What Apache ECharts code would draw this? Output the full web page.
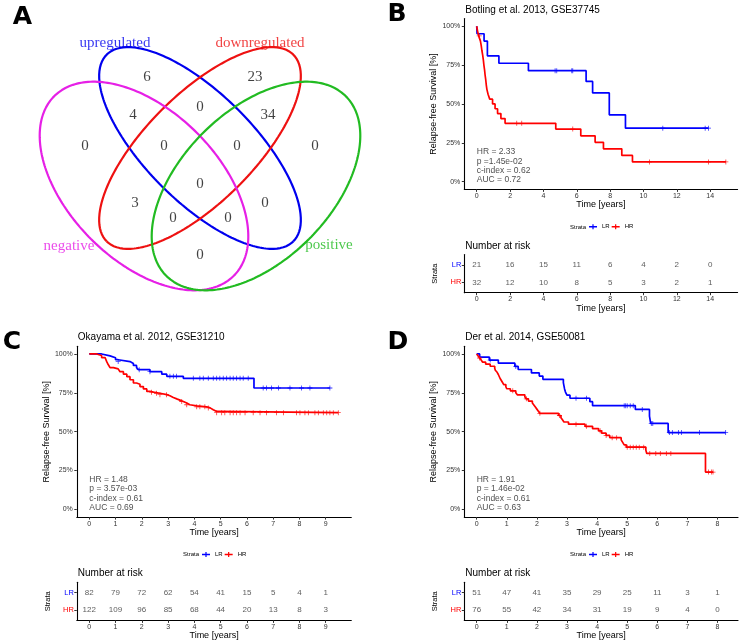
<!DOCTYPE html>
<html><head><meta charset="utf-8">
<script src="https://cdn.jsdelivr.net/npm/echarts@6/dist/echarts.min.js"></script>
<style>html,body{margin:0;padding:0;background:#fff}#c{width:740px;height:643px}</style>
</head><body><div id="c"></div>
<script>
// ================= DATA =================
// Panel A: Venn diagram
const vennSetNames = ['upregulated', 'downregulated', 'negative', 'positive'];
const vennRegionNames = ['up', 'down', 'neg&up', 'up&down', 'down&pos', 'neg', 'neg&up&down', 'up&down&pos', 'pos',
  'all', 'neg&down', 'up&pos', 'neg&down&pos', 'neg&up&pos', 'neg&pos'];
const vennCounts = [6, 23, 4, 0, 34, 0, 0, 0, 0, 0, 3, 0, 0, 0, 0];

// Panel B: Botling et al. 2013
const bTitle = 'Botling et al. 2013, GSE37745';
const bLR = [[0,1],[0.02,0.952],[0.44,0.905],[0.64,0.81],[1.33,0.762],[3.1,0.714],[6.56,0.645],[6.95,0.571],[7.95,0.43],[8.92,0.344],[13.9,0.344]];
const bLRcens = [4.7, 4.8, 5.7, 5.76, 11.16, 13.7, 13.9];
const bHR = [[0,1],[0.05,0.969],[0.12,0.938],[0.22,0.906],[0.27,0.875],[0.31,0.844],[0.36,0.812],[0.4,0.781],[0.43,0.75],[0.47,0.719],[0.5,0.688],[0.54,0.656],[0.57,0.625],[0.61,0.594],[0.68,0.562],[0.78,0.531],[0.95,0.5],[1.1,0.469],[1.25,0.438],[1.45,0.406],[1.7,0.375],[4.74,0.338],[6.24,0.295],[7.1,0.253],[7.6,0.211],[8.7,0.169],[9.34,0.127],[14.94,0.127]];
const bHRcens = [0.15, 2.4, 2.7, 5.76, 10.36, 13.9, 14.94];
const bXTicks = [0, 2, 4, 6, 8, 10, 12, 14];
const bRiskLR = [21, 16, 15, 11, 6, 4, 2, 0];
const bRiskHR = [32, 12, 10, 8, 5, 3, 2, 1];
const bStats = ['HR = 2.33', 'p =1.45e-02', 'c-index = 0.62', 'AUC = 0.72'];

// Panel C: Okayama et al. 2012
const cTitle = 'Okayama et al. 2012, GSE31210';
const cLR = [[0,1],[0.47,0.988],[0.79,0.976],[1.0,0.963],[1.1,0.951],[1.55,0.939],[1.68,0.926],[1.8,0.912],[1.87,0.899],[2.31,0.886],[2.76,0.87],[2.95,0.856],[3.58,0.843],[6.27,0.781],[9.16,0.781]];
const cLRcens = [1.1,1.9,2.31,3.07,3.2,3.32,3.96,4.21,4.34,4.53,4.72,4.85,4.97,5.1,5.23,5.36,5.48,5.61,5.74,5.86,6.05,6.62,6.75,6.94,7.2,7.64,8.08,8.4,9.16];
const cHR = [[0,1],[0.28,0.99],[0.47,0.977],[0.6,0.968],[0.66,0.952],[0.72,0.932],[0.79,0.912],[0.92,0.904],[1.1,0.896],[1.17,0.886],[1.3,0.87],[1.43,0.854],[1.55,0.834],[1.68,0.813],[1.8,0.805],[1.93,0.79],[2.06,0.775],[2.19,0.759],[2.31,0.754],[2.44,0.747],[2.69,0.738],[2.95,0.731],[3.07,0.72],[3.2,0.711],[3.33,0.703],[3.45,0.694],[3.58,0.684],[3.71,0.673],[3.83,0.666],[4.09,0.66],[4.47,0.653],[4.6,0.641],[4.72,0.63],[4.85,0.622],[9.48,0.622]];
const cHRcens = [2.37,2.56,2.69,2.94,3.52,3.71,4.09,4.21,4.4,4.53,4.85,5.04,5.16,5.36,5.48,5.61,5.74,5.93,6.24,6.5,6.75,7.13,7.39,7.89,8.02,8.21,8.34,8.59,8.72,8.91,9.04,9.16,9.29,9.48];
const cXTicks = [0, 1, 2, 3, 4, 5, 6, 7, 8, 9];
const cRiskLR = [82, 79, 72, 62, 54, 41, 15, 5, 4, 1];
const cRiskHR = [122, 109, 96, 85, 68, 44, 20, 13, 8, 3];
const cStats = ['HR = 1.48', 'p = 3.57e-03', 'c-index = 0.61', 'AUC = 0.69'];

// Panel D: Der et al. 2014
const dTitle = 'Der et al. 2014, GSE50081';
const dLR = [[0,1],[0.1,0.98],[0.42,0.961],[0.72,0.941],[1.27,0.92],[1.38,0.9],[1.82,0.878],[2.08,0.858],[2.2,0.837],[2.88,0.816],[2.9,0.795],[2.92,0.775],[2.95,0.755],[3.0,0.735],[3.1,0.715],[3.76,0.693],[3.85,0.667],[5.27,0.643],[5.74,0.6],[5.78,0.553],[6.36,0.494],[8.27,0.494]];
const dLRcens = [0.45,1.3,3.3,3.65,4.9,4.95,5.0,5.1,5.2,5.5,5.8,5.85,6.4,6.5,6.7,6.8,7.4,8.27];
const dHR = [[0,1],[0.05,0.987],[0.1,0.974],[0.15,0.961],[0.2,0.947],[0.3,0.934],[0.45,0.921],[0.6,0.908],[0.62,0.895],[0.68,0.882],[0.72,0.868],[0.75,0.855],[0.78,0.842],[0.82,0.829],[0.86,0.816],[0.9,0.803],[0.97,0.789],[1.0,0.776],[1.12,0.763],[1.3,0.75],[1.35,0.737],[1.6,0.724],[1.65,0.711],[1.72,0.697],[1.85,0.684],[1.9,0.671],[1.95,0.658],[2.0,0.645],[2.05,0.632],[2.1,0.618],[2.72,0.604],[2.8,0.59],[2.85,0.576],[2.9,0.562],[3.05,0.548],[3.6,0.534],[3.85,0.519],[4.05,0.505],[4.15,0.49],[4.3,0.476],[4.42,0.461],[4.8,0.447],[4.85,0.431],[4.9,0.415],[4.97,0.4],[5.62,0.38],[5.65,0.36],[7.6,0.24],[7.85,0.24]];
const dHRcens = [0.1,1.2,1.65,2.1,2.75,3.3,3.65,4.1,4.3,4.5,4.65,5.0,5.1,5.2,5.3,5.4,5.55,5.75,5.95,6.1,6.3,6.45,7.7,7.8,7.85];
const dXTicks = [0, 1, 2, 3, 4, 5, 6, 7, 8];
const dRiskLR = [51, 47, 41, 35, 29, 25, 11, 3, 1];
const dRiskHR = [76, 55, 42, 34, 31, 19, 9, 4, 0];
const dStats = ['HR = 1.91', 'p = 1.46e-02', 'c-index = 0.61', 'AUC = 0.63'];

// shared tick labels / strata names
const yTicks = [0, 0.25, 0.5, 0.75, 1];
const yTickLabels = ['0%', '25%', '50%', '75%', '100%'];
const strataNames = ['LR', 'HR'];

// ================= LAYOUT / STYLE =================
const FONT = '"Liberation Sans", Arial, sans-serif';
const SERIF = '"Liberation Serif", "Times New Roman", serif';
const BLUE = '#0000ff', RED = '#ff0000';
const PLUS = 'path://M0,4.2H10V5.8H0Z M4.2,0H5.8V10H4.2Z';
const KEY = 'path://M0,1.8H8V3.2H0Z M3.4,0H4.6V5H3.4Z';

// Venn layout (coordinate space of grid 0, y downward)
const vennEllipses = [
  {cx: 200, cy: 148, a: 132, b: 54, rot: 45, color: '#0000ee'},   // upregulated
  {cx: 200, cy: 148, a: 132, b: 54, rot: 135, color: '#ee1111'},  // downregulated
  {cx: 144, cy: 186, a: 127, b: 75, rot: 45, color: '#e620e6'},   // negative
  {cx: 256, cy: 186, a: 127, b: 75, rot: 135, color: '#22bb22'}   // positive
];
const vennSetLabelPos = [[115, 43], [260, 43], [69, 246], [329, 245]];
const vennRegionPos = [[147,77],[255,77],[133,115],[200,107],[268,115],[85,146],[164,146],[237,146],[315,146],[200,184],[135,203],[265,203],[173,218],[228,218],[200,255]];
const statsY = [0.19, 0.13, 0.07, 0.01];

const panels = [
  {title: bTitle, lr: bLR, hr: bHR, lrC: bLRcens, hrC: bHRcens, ticks: bXTicks, riskLR: bRiskLR, riskHR: bRiskHR, stats: bStats,
   L: {left: 464.3, width: 273.3, top: 18.5, xMin: -0.745, xMax: 15.645, letter: 'B', letterX: 397, letterY: 14, legendX: 589, strataX: 570}},
  {title: cTitle, lr: cLR, hr: cHR, lrC: cLRcens, hrC: cHRcens, ticks: cXTicks, riskLR: cRiskLR, riskHR: cRiskHR, stats: cStats,
   L: {left: 76.8, width: 274.5, top: 346.2, xMin: -0.475, xMax: 9.975, letter: 'C', letterX: 12, letterY: 342, legendX: 202, strataX: 183}},
  {title: dTitle, lr: dLR, hr: dHR, lrC: dLRcens, hrC: dHRcens, ticks: dXTicks, riskLR: dRiskLR, riskHR: dRiskHR, stats: dStats,
   L: {left: 464.3, width: 273.7, top: 346.2, xMin: -0.41, xMax: 8.68, letter: 'D', letterX: 398, letterY: 342, legendX: 589, strataX: 570}}
];
const PLOT_H = 170.9, TABLE_OFF = 236.1, TABLE_H = 38.1;

function stepLevel(curve, t) {
  let s = curve[0][1];
  for (const p of curve) { if (p[0] <= t + 1e-9) s = p[1]; else break; }
  return s;
}
function ellipsePoints(e) {
  const pts = [], phi = e.rot * Math.PI / 180, N = 240;
  for (let k = 0; k <= N; k++) {
    const th = 2 * Math.PI * k / N;
    const u = e.a * Math.cos(th), v = e.b * Math.sin(th);
    pts.push([e.cx + u * Math.cos(phi) - v * Math.sin(phi), e.cy + u * Math.sin(phi) + v * Math.cos(phi)]);
  }
  return pts;
}

const grids = [{left: 0, top: 0, width: 370, height: 300}];
const xAxes = [{gridIndex: 0, type: 'value', min: 0, max: 370, show: false}];
const yAxes = [{gridIndex: 0, type: 'value', min: 0, max: 300, inverse: true, show: false}];
const series = [];
const legends = [];
const graphics = [];

// Venn
vennEllipses.forEach((e, i) => {
  series.push({type: 'line', name: vennSetNames[i], xAxisIndex: 0, yAxisIndex: 0, data: ellipsePoints(e),
    showSymbol: false, symbol: 'none', silent: true, lineStyle: {color: e.color, width: 2.2}, z: 2});
});
series.push({type: 'scatter', xAxisIndex: 0, yAxisIndex: 0, silent: true, symbolSize: 0.1,
  itemStyle: {color: 'rgba(0,0,0,0)'},
  data: vennRegionNames.map((n, i) => ({name: n, value: [vennRegionPos[i][0], vennRegionPos[i][1], vennCounts[i]]})),
  label: {show: true, position: 'inside', formatter: p => String(p.value[2]), fontFamily: SERIF, fontSize: 15, color: '#111'}, z: 5});
series.push({type: 'scatter', xAxisIndex: 0, yAxisIndex: 0, silent: true, symbolSize: 0.1,
  itemStyle: {color: 'rgba(0,0,0,0)'},
  data: vennSetNames.map((n, i) => ({name: n, value: [vennSetLabelPos[i][0], vennSetLabelPos[i][1]],
    label: {color: vennEllipses[i].color}})),
  label: {show: true, position: 'inside', formatter: p => p.name, fontFamily: SERIF, fontSize: 15}, z: 5});
graphics.push({type: 'text', x: 22.5, y: 17, style: {text: 'A', font: 'bold 25px "DejaVu Sans"', fill: '#000', textAlign: 'center', textVerticalAlign: 'middle'}});

const axisLine = {show: true, onZero: false, lineStyle: {color: '#000', width: 1.1}};
panels.forEach((P, i) => {
  const L = P.L;
  const gp = 1 + 2 * i, gt = 2 + 2 * i;
  grids.push({left: L.left, top: L.top, width: L.width, height: PLOT_H});
  grids.push({left: L.left, top: L.top + TABLE_OFF, width: L.width, height: TABLE_H});
  const xCommon = (g) => ({gridIndex: g, type: 'value', min: L.xMin, max: L.xMax, axisLine,
    axisTick: {show: true, customValues: P.ticks, length: 2.5, lineStyle: {color: '#333', width: 1}},
    axisLabel: {customValues: P.ticks, fontSize: 7, color: '#333', margin: 3, fontFamily: FONT},
    splitLine: {show: false}, name: 'Time [years]', nameLocation: 'middle', nameGap: 10,
    nameTextStyle: {fontSize: 9, color: '#000', fontFamily: FONT}});
  xAxes.push(xCommon(gp), xCommon(gt));
  yAxes.push({gridIndex: gp, type: 'value', min: -0.05, max: 1.05, axisLine,
    axisTick: {show: true, customValues: yTicks, length: 2.5, lineStyle: {color: '#333', width: 1}},
    axisLabel: {customValues: yTicks, formatter: v => yTickLabels[Math.round(v * 4)], fontSize: 7, color: '#333', margin: 4, fontFamily: FONT},
    splitLine: {show: false}, name: 'Relapse-free Survival [%]', nameLocation: 'middle', nameGap: 25, nameRotate: 90,
    nameTextStyle: {fontSize: 9, color: '#000', fontFamily: FONT}});
  yAxes.push({gridIndex: gt, type: 'value', min: 0.4, max: 2.6, axisLine,
    axisTick: {show: true, customValues: [1, 2], length: 2.5, lineStyle: {color: '#333', width: 1}},
    axisLabel: {customValues: [1, 2], formatter: v => (v > 1.5 ? '{lr|' + strataNames[0] + '}' : '{hr|' + strataNames[1] + '}'),
      margin: 3, rich: {lr: {color: BLUE, fontSize: 7.5, fontFamily: FONT}, hr: {color: RED, fontSize: 7.5, fontFamily: FONT}}},
    splitLine: {show: false}, name: 'Strata', nameLocation: 'middle', nameGap: 25, nameRotate: 90,
    nameTextStyle: {fontSize: 7.5, color: '#000', fontFamily: FONT}});

  // curves
  [[P.lr, P.lrC, BLUE, strataNames[0]], [P.hr, P.hrC, RED, strataNames[1]]].forEach(([curve, cens, col, nm]) => {
    series.push({type: 'line', name: nm, xAxisIndex: gp, yAxisIndex: gp, data: curve, step: 'end',
      showSymbol: false, symbol: 'none', silent: true, color: col, itemStyle: {color: col},
      lineStyle: {color: col, width: 1.7}, z: 3});
    series.push({type: 'scatter', name: nm + ' censored', xAxisIndex: gp, yAxisIndex: gp, silent: true,
      data: cens.map(t => [t, stepLevel(curve, t)]), symbol: PLUS, symbolSize: 5,
      itemStyle: {color: col}, z: 4});
  });
  // statistics text
  series.push({type: 'scatter', xAxisIndex: gp, yAxisIndex: gp, silent: true, symbolSize: 0.1,
    itemStyle: {color: 'rgba(0,0,0,0)'},
    data: P.stats.map((s, k) => [0, statsY[k], s]),
    label: {show: true, position: 'right', distance: 0, formatter: p => p.data[2], fontSize: 8.5, color: '#222', fontFamily: FONT}});
  // risk table
  series.push({type: 'scatter', xAxisIndex: gt, yAxisIndex: gt, silent: true, symbolSize: 0.1,
    itemStyle: {color: 'rgba(0,0,0,0)'},
    data: P.ticks.map((t, k) => [t, 2, P.riskLR[k]]).concat(P.ticks.map((t, k) => [t, 1, P.riskHR[k]])),
    label: {show: true, position: 'inside', formatter: p => String(p.data[2]), fontSize: 8, color: '#333', fontFamily: FONT}});

  // legend
  legends.push({left: L.legendX, top: L.top + 205.3, padding: 0, itemWidth: 8, itemHeight: 5, itemGap: 2,
    icon: KEY, selectedMode: false, data: strataNames,
    textStyle: {fontSize: 6, color: '#000', fontFamily: FONT}});
  graphics.push({type: 'text', x: L.strataX, y: L.top + 208.5, style: {text: 'Strata', font: '6px ' + FONT, fill: '#000', textAlign: 'left', textVerticalAlign: 'middle'}});
  // titles and letters
  graphics.push({type: 'text', x: L.left + 1, y: L.top - 8.7, style: {text: P.title, font: '10px ' + FONT, fill: '#000', textAlign: 'left', textVerticalAlign: 'middle'}});
  graphics.push({type: 'text', x: L.left + 1, y: L.top + 227.5, style: {text: 'Number at risk', font: '10px ' + FONT, fill: '#000', textAlign: 'left', textVerticalAlign: 'middle'}});
  graphics.push({type: 'text', x: L.letterX, y: L.letterY, style: {text: L.letter, font: 'bold 25px "DejaVu Sans"', fill: '#000', textAlign: 'center', textVerticalAlign: 'middle'}});
});

const chart = echarts.init(document.getElementById('c'), null, {renderer: 'canvas', width: 740, height: 643});
chart.setOption({
  animation: false,
  backgroundColor: '#fff',
  textStyle: {fontFamily: FONT},
  grid: grids, xAxis: xAxes, yAxis: yAxes, series, legend: legends, graphic: graphics
});
</script></body></html>
